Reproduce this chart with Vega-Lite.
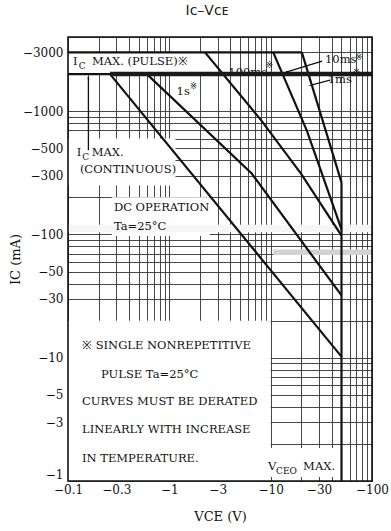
{
  "$schema": "https://vega.github.io/schema/vega-lite/v6.json",
  "width": 304,
  "height": 444,
  "autosize": {"type": "none"},
  "padding": {"left": 68, "top": 37, "right": 19, "bottom": 50},
  "background": "white",
  "config": {"view": {"stroke": null}, "font": "DejaVu Serif"},
  "title": {"text": "Iᴄ–Vᴄᴇ", "font": "DejaVu Sans", "fontSize": 14, "fontWeight": "normal", "color": "#222", "offset": 13, "dx": -13},
  "datasets": {
    "curves": [
      {"series": "DC", "seq": 1, "vce": -0.26, "ic": -2000},
      {"series": "DC", "seq": 2, "vce": -50, "ic": -10.2},
      {"series": "1s", "seq": 1, "vce": -0.6, "ic": -2000},
      {"series": "1s", "seq": 2, "vce": -6.5, "ic": -312},
      {"series": "1s", "seq": 3, "vce": -50, "ic": -32},
      {"series": "100ms", "seq": 1, "vce": -2.25, "ic": -3000},
      {"series": "100ms", "seq": 2, "vce": -8, "ic": -850},
      {"series": "100ms", "seq": 3, "vce": -20, "ic": -310},
      {"series": "100ms", "seq": 4, "vce": -50, "ic": -98},
      {"series": "10ms", "seq": 1, "vce": -10.6, "ic": -3000},
      {"series": "10ms", "seq": 2, "vce": -22.7, "ic": -700},
      {"series": "10ms", "seq": 3, "vce": -50, "ic": -110},
      {"series": "1ms", "seq": 1, "vce": -20.3, "ic": -3000},
      {"series": "1ms", "seq": 2, "vce": -50, "ic": -265}
    ],
    "limits": [
      {"series": "IC max pulse", "seq": 1, "vce": -0.1, "ic": -3000},
      {"series": "IC max pulse", "seq": 2, "vce": -20.3, "ic": -3000},
      {"series": "IC max continuous", "seq": 1, "vce": -0.1, "ic": -2000},
      {"series": "IC max continuous", "seq": 2, "vce": -0.26, "ic": -2000},
      {"series": "VCEO max", "seq": 1, "vce": -50, "ic": -265},
      {"series": "VCEO max", "seq": 2, "vce": -50, "ic": -1}
    ],
    "bar": [
      {"seq": 1, "vce": -0.26, "ic": -2000},
      {"seq": 2, "vce": -100, "ic": -2000}
    ],
    "panels": [
      {"name": "pulse label", "vce": -0.1, "ic": -2000, "vce2": -2.2, "ic2": -3000},
      {"name": "continuous label", "vce": -0.1, "ic": -250, "vce2": -1.15, "ic2": -600},
      {"name": "dc label", "vce": -0.27, "ic": -97, "vce2": -2.5, "ic2": -200},
      {"name": "note", "vce": -0.1, "ic": -1, "vce2": -10, "ic2": -20},
      {"name": "vceo label", "vce": -9.4, "ic": -1.08, "vce2": -46, "ic2": -1.85}
    ],
    "whiteband": [
      {"vce": -0.1, "ic": -104, "vce2": -100, "ic2": -120}
    ],
    "greyband": [
      {"vce": -10.6, "ic": -68, "vce2": -100, "ic2": -75.5}
    ],
    "frame": [
      {"vce": -0.1, "ic": -1, "vce2": -100, "ic2": -4000}
    ],
    "texts": [
      {"label": "I", "vce": -0.112, "ic": -2497},
      {"label": "MAX. (PULSE)※", "vce": -0.1726, "ic": -2497},
      {"label": "I", "vce": -0.122, "ic": -454},
      {"label": "MAX.", "vce": -0.1714, "ic": -454},
      {"label": "(CONTINUOUS)", "vce": -0.131, "ic": -332},
      {"label": "DC OPERATION", "vce": -0.284, "ic": -163.5},
      {"label": "Ta=25°C", "vce": -0.284, "ic": -114},
      {"label": "1s", "vce": -1.18, "ic": -1434},
      {"label": "100ms", "vce": -3.82, "ic": -2034},
      {"label": "10ms", "vce": -34.4, "ic": -2592},
      {"label": "1ms", "vce": -36.6, "ic": -1784},
      {"label": "※ SINGLE NONREPETITIVE", "vce": -0.1375, "ic": -12.4},
      {"label": "PULSE Ta=25°C", "vce": -0.212, "ic": -7.22},
      {"label": "CURVES MUST BE DERATED", "vce": -0.1375, "ic": -4.39},
      {"label": "LINEARLY WITH INCREASE", "vce": -0.1375, "ic": -2.59},
      {"label": "IN TEMPERATURE.", "vce": -0.1375, "ic": -1.52},
      {"label": "V", "vce": -9.4, "ic": -1.3},
      {"label": "MAX.", "vce": -20.9, "ic": -1.3}
    ],
    "subs": [
      {"label": "C", "vce": -0.128, "ic": -2497},
      {"label": "C", "vce": -0.138, "ic": -454},
      {"label": "CEO", "vce": -11.3, "ic": -1.3}
    ],
    "sups": [
      {"label": "※", "vce": -1.6, "ic": -1594},
      {"label": "※", "vce": -9.0, "ic": -2359},
      {"label": "※", "vce": -68.4, "ic": -2757},
      {"label": "※", "vce": -65, "ic": -2090}
    ],
    "arrows": [
      {"name": "continuous", "vce": -0.159, "ic": -483, "vce2": -0.159, "ic2": -1888},
      {"name": "10ms", "vce": -32.2, "ic": -2545, "vce2": -14.2, "ic2": -2071},
      {"name": "1ms", "vce": -38.5, "ic": -1784, "vce2": -25.1, "ic2": -1625}
    ],
    "heads": [
      {"name": "continuous", "vce": -0.159, "ic": -1888},
      {"name": "10ms", "vce": -14.2, "ic": -2071},
      {"name": "1ms", "vce": -25.1, "ic": -1625}
    ]
  },
  "encoding": {
    "x": {
      "field": "vce",
      "type": "quantitative",
      "scale": {"type": "log", "domain": [-0.1, -100], "nice": false},
      "axis": {
        "values": [-0.1, -0.2, -0.3, -0.4, -0.5, -0.6, -0.7, -0.8, -0.9, -1, -2, -3, -4, -5, -6, -7, -8, -9, -10, -20, -30, -40, -50, -60, -70, -80, -90, -100],
        "format": "~g",
        "labelExpr": "indexof([-0.1, -0.3, -1, -3, -10, -30, -100], datum.value) >= 0 ? datum.label : ''",
        "grid": true,
        "gridColor": "#333333",
        "gridWidth": 0.9,
        "ticks": false,
        "tickSize": 0,
        "domain": false,
        "labelFont": "DejaVu Serif",
        "labelFontSize": 12,
        "labelColor": "#111",
        "labelPadding": 3,
        "labelOverlap": false,
        "labelFlush": false,
        "labelBound": false,
        "title": "VCE  (V)",
        "titleFont": "DejaVu Serif",
        "titleFontSize": 13,
        "titleFontWeight": "normal",
        "titleColor": "#111",
        "titlePadding": 15
      }
    },
    "y": {
      "field": "ic",
      "type": "quantitative",
      "scale": {"type": "log", "domain": [-1, -4000], "nice": false},
      "axis": {
        "values": [-1, -2, -3, -4, -5, -6, -7, -8, -9, -10, -20, -30, -40, -50, -60, -70, -80, -90, -100, -200, -300, -400, -500, -600, -700, -800, -900, -1000, -2000, -3000, -4000],
        "format": "~g",
        "labelExpr": "indexof([-1, -3, -5, -10, -30, -50, -100, -300, -500, -1000, -3000], datum.value) >= 0 ? datum.label : ''",
        "labelBaseline": {"condition": {"test": "datum.value === -1", "value": "bottom"}, "value": "middle"},
        "grid": true,
        "gridColor": "#333333",
        "gridWidth": 0.9,
        "ticks": false,
        "tickSize": 0,
        "domain": false,
        "labelFont": "DejaVu Serif",
        "labelFontSize": 12,
        "labelColor": "#111",
        "labelPadding": 5,
        "labelOverlap": false,
        "labelFlush": false,
        "labelBound": false,
        "title": "IC  (mA)",
        "titleFont": "DejaVu Serif",
        "titleFontSize": 13,
        "titleFontWeight": "normal",
        "titleColor": "#111",
        "titlePadding": 0
      }
    }
  },
  "layer": [
    {
      "data": {"name": "panels"},
      "mark": {"type": "rect", "fill": "white", "stroke": null},
      "encoding": {"x2": {"field": "vce2"}, "y2": {"field": "ic2"}}
    },
    {
      "data": {"name": "whiteband"},
      "mark": {"type": "rect", "fill": "#f6f6f6", "stroke": null},
      "encoding": {"x2": {"field": "vce2"}, "y2": {"field": "ic2"}}
    },
    {
      "data": {"name": "greyband"},
      "mark": {"type": "rect", "fill": "#d2d2d2", "stroke": null},
      "encoding": {"x2": {"field": "vce2"}, "y2": {"field": "ic2"}}
    },
    {
      "data": {"name": "texts"},
      "mark": {"type": "text", "align": "left", "baseline": "middle", "font": "DejaVu Serif", "fontSize": 11.5, "color": "#111"},
      "encoding": {"text": {"field": "label"}}
    },
    {
      "data": {"name": "subs"},
      "mark": {"type": "text", "align": "left", "baseline": "middle", "font": "DejaVu Serif", "fontSize": 9, "dy": 4, "color": "#111"},
      "encoding": {"text": {"field": "label"}}
    },
    {
      "data": {"name": "sups"},
      "mark": {"type": "text", "align": "left", "baseline": "middle", "font": "DejaVu Sans", "fontSize": 8.5, "color": "#111"},
      "encoding": {"text": {"field": "label"}}
    },
    {
      "data": {"name": "curves"},
      "mark": {"type": "line", "color": "#111", "strokeWidth": 2.2},
      "encoding": {"detail": {"field": "series"}, "order": {"field": "seq"}}
    },
    {
      "data": {"name": "limits"},
      "mark": {"type": "line", "color": "#111", "strokeWidth": 2.2},
      "encoding": {"detail": {"field": "series"}, "order": {"field": "seq"}}
    },
    {
      "data": {"name": "bar"},
      "mark": {"type": "line", "color": "#1a1a1a", "strokeWidth": 4.5},
      "encoding": {"order": {"field": "seq"}}
    },
    {
      "data": {"name": "arrows"},
      "mark": {"type": "rule", "color": "#111", "strokeWidth": 1.3},
      "encoding": {"x2": {"field": "vce2"}, "y2": {"field": "ic2"}}
    },
    {
      "data": {"name": "heads"},
      "transform": [{"filter": "datum.name === 'continuous'"}],
      "mark": {"type": "point", "shape": "wedge", "filled": true, "color": "#111", "size": 45, "angle": 0, "opacity": 1}
    },
    {
      "data": {"name": "heads"},
      "transform": [{"filter": "datum.name === '10ms'"}],
      "mark": {"type": "point", "shape": "wedge", "filled": true, "color": "#111", "size": 45, "angle": 253, "opacity": 1}
    },
    {
      "data": {"name": "heads"},
      "transform": [{"filter": "datum.name === '1ms'"}],
      "mark": {"type": "point", "shape": "wedge", "filled": true, "color": "#111", "size": 45, "angle": 255, "opacity": 1}
    },
    {
      "data": {"name": "frame"},
      "mark": {"type": "rect", "fill": null, "stroke": "#111", "strokeWidth": 1.6},
      "encoding": {"x2": {"field": "vce2"}, "y2": {"field": "ic2"}}
    }
  ]
}
